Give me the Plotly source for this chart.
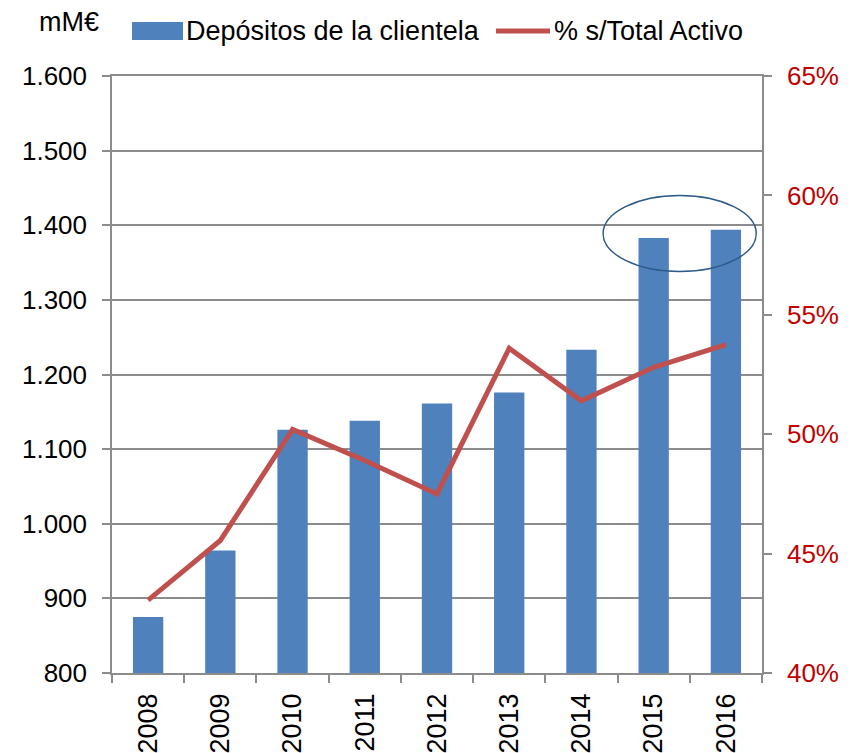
import plotly.graph_objects as go

years = ["2008", "2009", "2010", "2011", "2012", "2013", "2014", "2015", "2016"]
depositos = [875, 964, 1126, 1138, 1161, 1176, 1233, 1383, 1394]
pct_activo = [43.05, 45.55, 50.2, 48.9, 47.5, 53.6, 51.4, 52.8, 53.75]
left_ticks = [800, 900, 1000, 1100, 1200, 1300, 1400, 1500, 1600]
left_labels = ["800", "900", "1.000", "1.100", "1.200", "1.300", "1.400", "1.500", "1.600"]
right_ticks = [40, 45, 50, 55, 60, 65]
right_labels = ["40%", "45%", "50%", "55%", "60%", "65%"]

FONT = "Liberation Sans, Arial, sans-serif"
GRID = "#8C8C8C"
BLUE = "#4F81BD"
RED = "#C0504D"
RED_TXT = "#C00000"

# page offset (default body margin) and plot area in page pixels
OFF = 8
L, R, T, B = 112, 762, 76, 673
W, H = R - L, B - T
FW, FH = 861 - OFF, 753 - OFF

def px(x):
    return (x - L) / W

def py(y):
    return (B - y) / H

fig = go.Figure()
fig.add_trace(go.Bar(x=years, y=depositos, name="Depósitos de la clientela",
                     marker=dict(color=BLUE, line=dict(width=0)), showlegend=False))
fig.add_trace(go.Scatter(x=years, y=pct_activo, name="% s/Total Activo", yaxis="y2",
                         mode="lines", line=dict(color=RED, width=5), showlegend=False))

fig.update_layout(
    width=FW, height=FH,
    margin=dict(l=L - OFF, r=FW - (R - OFF), t=T - OFF, b=FH - (B - OFF), pad=0),
    paper_bgcolor="white", plot_bgcolor="white",
    font=dict(family=FONT, size=26, color="black"),
    bargap=0.58,
    xaxis=dict(type="category", showline=True, linecolor=GRID, linewidth=1.5,
               mirror=True, ticks="outside", tickson="boundaries", ticklen=8,
               tickwidth=1.5, tickcolor=GRID, tickangle=-90, showgrid=False,
               automargin=False, ticklabelstandoff=8,
               tickfont=dict(size=27, color="black")),
    yaxis=dict(range=[800, 1600], tickvals=left_ticks, ticktext=left_labels,
               showline=True, linecolor=GRID, linewidth=1.5, ticks="outside",
               ticklen=8, tickwidth=1.5, tickcolor=GRID, showgrid=True,
               gridcolor=GRID, gridwidth=1.5, zeroline=False, automargin=False,
               ticklabelstandoff=10,
               tickfont=dict(size=26, color="black")),
    yaxis2=dict(range=[40, 65], tickvals=right_ticks, ticktext=right_labels,
                overlaying="y", side="right", showline=True, linecolor=GRID,
                linewidth=1.5, ticks="outside", ticklen=8, tickwidth=1.5,
                tickcolor=GRID, showgrid=False, zeroline=False, automargin=False,
                ticklabelstandoff=10,
                tickfont=dict(size=26, color=RED_TXT)),
)

# manual legend
fig.add_shape(type="rect", xref="paper", yref="paper",
              x0=px(132), x1=px(183), y0=py(40), y1=py(22),
              fillcolor=BLUE, line=dict(width=0))
fig.add_shape(type="line", xref="paper", yref="paper",
              x0=px(496), x1=px(550), y0=py(31), y1=py(31),
              line=dict(color=RED, width=5))
fig.add_annotation(text="Depósitos de la clientela", xref="paper", yref="paper",
                   x=px(184), y=py(31), xanchor="left", yanchor="middle",
                   showarrow=False, font=dict(size=27, color="black"))
fig.add_annotation(text="% s/Total Activo", xref="paper", yref="paper",
                   x=px(552), y=py(31), xanchor="left", yanchor="middle",
                   showarrow=False, font=dict(size=27, color="black"))
fig.add_annotation(text="mM€", xref="paper", yref="paper",
                   x=px(37), y=py(22), xanchor="left", yanchor="middle",
                   showarrow=False, font=dict(size=27, color="black"))

# highlight ellipse around 2015-2016
fig.add_shape(type="circle", xref="x", yref="y",
              x0=6.30, x1=8.42, y0=1338, y1=1440,
              line=dict(color="#2E5A8A", width=1.5), fillcolor="rgba(0,0,0,0)")

fig.write_html("out.html")
